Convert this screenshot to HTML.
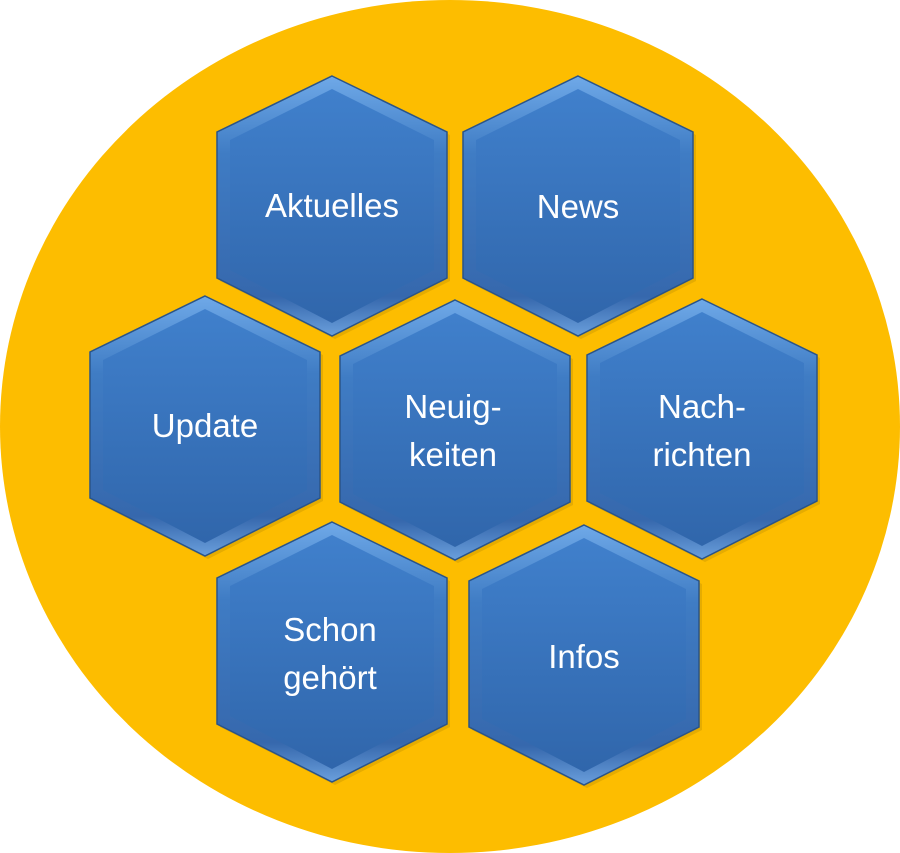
<!DOCTYPE html>
<html><head><meta charset="utf-8"><style>
html,body{margin:0;padding:0;background:#fff;}
svg{display:block}
text{font-family:"Liberation Sans",sans-serif;font-size:33px;fill:#fff;text-anchor:middle;}
</style></head><body>
<svg width="900" height="853" viewBox="0 0 900 853" xmlns="http://www.w3.org/2000/svg">
<defs>
<linearGradient id="g" x1="0" y1="0" x2="0" y2="1">
<stop offset="0" stop-color="#4080cc"/><stop offset="1" stop-color="#3066ab"/>
</linearGradient>
<linearGradient id="b" x1="0" y1="0" x2="0" y2="1">
<stop offset="0" stop-color="#6fa9e8"/><stop offset="0.3" stop-color="#3f7cc4"/><stop offset="0.85" stop-color="#3668ad"/><stop offset="1" stop-color="#6a9fdc"/>
</linearGradient>
<g id="h">
<polygon points="3,-127 118,-71 118,75 3,133 -112,75 -112,-71" fill="#b38400" opacity="0.3"/>
<polygon points="0,-130 115,-74 115,72 0,130 -115,72 -115,-74" fill="url(#b)" stroke="#2a5488" stroke-width="1.5"/>
<polygon points="0,-117 102,-66 102,64 0,117 -102,64 -102,-66" fill="url(#g)"/>
</g>
</defs>
<ellipse cx="450" cy="426.5" rx="450" ry="426.5" fill="#fdbd00"/>
<use href="#h" x="332" y="206"/>
<use href="#h" x="578" y="206"/>
<use href="#h" x="205" y="426"/>
<use href="#h" x="455" y="430"/>
<use href="#h" x="702" y="429"/>
<use href="#h" x="332" y="652"/>
<use href="#h" x="584" y="655"/>
<text x="332" y="217">Aktuelles</text>
<text x="578" y="218">News</text>
<text x="205" y="437">Update</text>
<text x="453" y="418">Neuig-</text>
<text x="453" y="466">keiten</text>
<text x="702" y="418">Nach-</text>
<text x="702" y="466">richten</text>
<text x="330" y="641">Schon</text>
<text x="330" y="689">gehört</text>
<text x="584" y="668">Infos</text>
</svg>
</body></html>
